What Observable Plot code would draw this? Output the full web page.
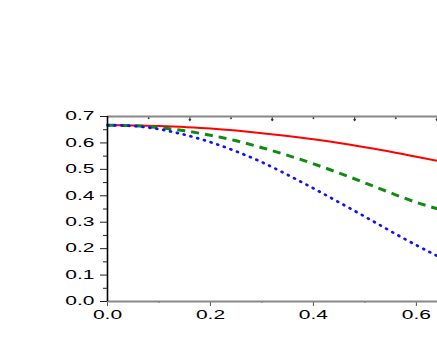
<!DOCTYPE html>
<html><head><meta charset="utf-8">
<script src="https://cdn.jsdelivr.net/npm/d3@7"></script>
<script src="https://cdn.jsdelivr.net/npm/@observablehq/plot@0.6"></script>
<style>body{margin:0;background:#fff} svg{display:block}</style>
</head><body><div id="chart"></div>
<script>
const xs    = [0, 0.05, 0.1, 0.15, 0.2, 0.25, 0.3, 0.35, 0.4, 0.45, 0.5, 0.55, 0.6, 0.641];
const red   = [0.667, 0.666, 0.664, 0.660, 0.655, 0.647, 0.637, 0.626, 0.614, 0.600, 0.584, 0.567, 0.548, 0.532];
const green = [0.667, 0.665, 0.658, 0.646, 0.629, 0.608, 0.582, 0.553, 0.521, 0.486, 0.449, 0.411, 0.375, 0.351];
const blue  = [0.667, 0.664, 0.652, 0.631, 0.603, 0.568, 0.527, 0.479, 0.428, 0.375, 0.321, 0.266, 0.213, 0.172];
const xMajorTicks = [0, 0.2, 0.4, 0.6];
const xMinorTicks = [0.1, 0.3, 0.5];
const yMajorTicks = [0, 0.1, 0.2, 0.3, 0.4, 0.5, 0.6, 0.7];
const yMinorTicks = [0.05, 0.15, 0.25, 0.35, 0.45, 0.55, 0.65];
const topMajorTicks = [0.16, 0.32, 0.48, 0.64];
const topMinorTicks = [0.08, 0.24, 0.40, 0.56];

const series = [
  {name: "red", values: red, color: "#ff0000", width: 2, dash: null, cap: "butt"},
  {name: "green", values: green, color: "#108a10", width: 3, dash: "8,6", cap: "butt"},
  {name: "blue", values: blue, color: "#1010ff", width: 2.7, dash: "1,6", cap: "round"}
];

const lineMarks = series.map(s => Plot.line(xs.map((x, i) => ({x, y: s.values[i]})), {
  x: "x", y: "y", stroke: s.color, strokeWidth: s.width, strokeDasharray: s.dash,
  strokeLinecap: s.cap, curve: "natural"
}));

const chart = Plot.plot({
  width: 437, height: 345,
  marginLeft: 107, marginRight: 0, marginTop: 116, marginBottom: 44,
  x: {domain: [0, 0.641], label: null},
  y: {domain: [0, 0.7], label: null},
  style: {fontFamily: "'Liberation Sans', Arial, sans-serif", fontSize: "12px", color: "black", background: "white"},
  marks: [
    Plot.axisY({ticks: yMajorTicks, tickSize: 7, tickPadding: 6, tickFormat: d => d.toFixed(1), stroke: "#222", label: null}),
    Plot.axisY({ticks: yMinorTicks, tickSize: 4, tickFormat: () => "", stroke: "#222", label: null}),
    Plot.axisX({ticks: xMajorTicks, tickSize: 5, tickPadding: 4, tickFormat: d => d.toFixed(1), stroke: "#555", label: null}),
    Plot.axisX({ticks: xMinorTicks, tickSize: 2, tickFormat: () => "", stroke: "#555", label: null}),
    Plot.vector(topMajorTicks, {x: d => d, y: () => 0.7, length: 4, rotate: 180, anchor: "start", stroke: "#333", strokeWidth: 1.2}),
    Plot.vector(topMinorTicks, {x: d => d, y: () => 0.7, length: 2, rotate: 180, anchor: "start", stroke: "#333", strokeWidth: 1.2}),
    Plot.ruleY([0.7], {stroke: "#888", strokeWidth: 2}),
    Plot.ruleY([0], {stroke: "#888", strokeWidth: 2}),
    ...lineMarks,
    Plot.ruleX([0], {stroke: "#000", strokeWidth: 1.6})
  ]
});

d3.select(chart).selectAll('g[aria-label="y-axis tick label"] text, g[aria-label="x-axis tick label"] text').each(function() {
  const t = d3.select(this);
  let tr = t.attr("transform");
  if (!tr) {
    const x = t.attr("x") || 0, y = t.attr("y") || 0;
    t.attr("x", null).attr("y", null);
    tr = `translate(${x},${y})`;
  }
  t.attr("transform", tr + " scale(1.75,1)");
});

document.getElementById("chart").appendChild(chart);
</script>
</body></html>
